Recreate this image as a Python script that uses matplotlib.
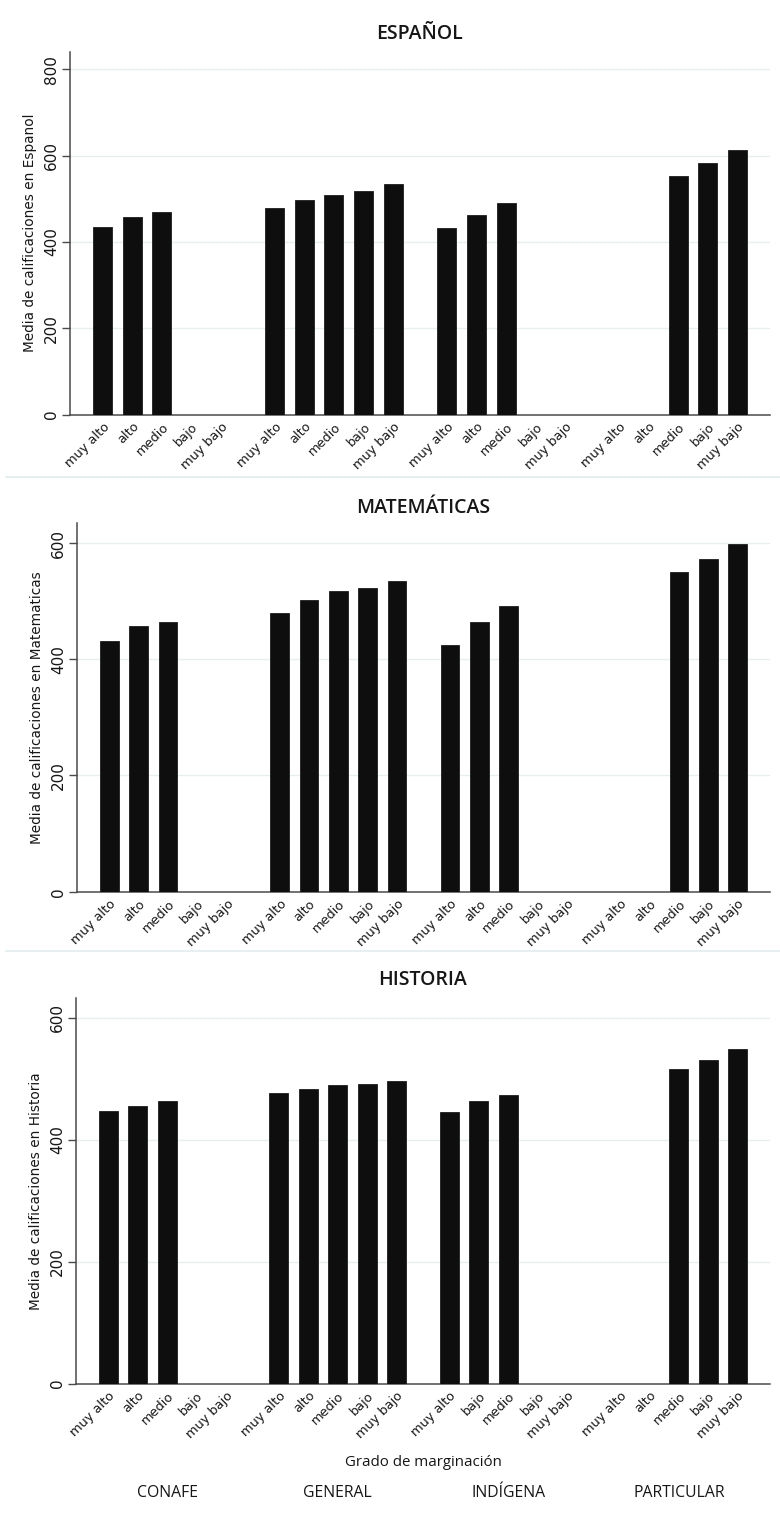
import numpy as np
import matplotlib
matplotlib.use("Agg")
import matplotlib.pyplot as plt
from matplotlib.lines import Line2D

plt.rcParams['font.family'] = ['DejaVu Sans']

# School types and marginalisation levels
tipos = ["CONAFE", "GENERAL", "INDÍGENA", "PARTICULAR"]
niveles = ["muy alto", "alto", "medio", "bajo", "muy bajo"]
niveles_hist_indigena = ["muy alto", "bajo", "medio", "bajo", "muy bajo"]

nan = np.nan
# Mean scores per school type (rows) and marginalisation level (columns)
espanol = [
    [435, 457, 470, nan, nan],
    [479, 496, 509, 518, 535],
    [432, 463, 491, nan, nan],
    [nan, nan, 552, 583, 613],
]
matematicas = [
    [431, 457, 464, nan, nan],
    [480, 502, 518, 522, 534],
    [425, 464, 492, nan, nan],
    [nan, nan, 550, 573, 598],
]
historia = [
    [447, 456, 463, nan, nan],
    [476, 483, 489, 491, 496],
    [445, 464, 473, nan, nan],
    [nan, nan, 516, 531, 548],
]

titulos = ["ESPAÑOL", "MATEMÁTICAS", "HISTORIA"]
ylabels = ["Media de calificaciones en Espanol",
           "Media de calificaciones en Matematicas",
           "Media de calificaciones en Historia"]
yticks = [[0, 200, 400, 600, 800], [0, 200, 400, 600], [0, 200, 400, 600]]
ylims = [840, 634, 632]

W, H = 780, 1515
fig = plt.figure(figsize=(W / 100, H / 100), dpi=100)

# axes boxes in pixels: left, right, y of zero line, y of top
boxes = [(70, 770, 414.5, 52), (77, 770, 891.7, 523.3), (76, 770, 1383.5, 998.3)]
title_y = [34, 508, 980]

GAP = 0.8
BAR_W = 0.64
AXIS_COL = "#4a4a4a"
TEXT_COL = "#161616"
TITLE_FONT = ["Open Sans", "DejaVu Sans"]

pos = np.array([[k * (5 + GAP) + i for i in range(5)] for k in range(4)])

for p, data in enumerate([espanol, matematicas, historia]):
    l, r, y0, y1 = boxes[p]
    ax = fig.add_axes([l / W, 1 - y0 / H, (r - l) / W, (y0 - y1) / H])
    vals = np.array(data, dtype=float)
    xs = pos.flatten()
    vs = vals.flatten()
    m = ~np.isnan(vs)
    ax.bar(xs[m], vs[m], width=BAR_W, color="#0e0e0e", edgecolor="#1c1c1c",
           linewidth=0.6, zorder=3)
    ax.set_xlim(-1.1, pos[-1, -1] + 1.1)
    ax.set_ylim(0, ylims[p])
    ax.set_yticks(yticks[p])
    ax.set_yticklabels([str(t) for t in yticks[p]], rotation=90, va="center",
                       fontsize=11, color=TEXT_COL)
    for t in yticks[p][1:]:
        ax.axhline(t, color="#e6f0f0", linewidth=1.0, zorder=1)
    labels = []
    for k in range(4):
        if p == 2 and k == 2:
            labels += niveles_hist_indigena
        else:
            labels += niveles
    ax.set_xticks(xs)
    ax.set_xticklabels(labels, rotation=45, ha="right", rotation_mode="anchor",
                       fontsize=9.3, color=TEXT_COL)
    ax.tick_params(axis="x", length=0, pad=4)
    ax.tick_params(axis="y", length=6, width=1.0, color=AXIS_COL, pad=2)
    for s in ["top", "right"]:
        ax.spines[s].set_visible(False)
    for s in ["left", "bottom"]:
        ax.spines[s].set_color(AXIS_COL)
        ax.spines[s].set_linewidth(1.1)
    ax.set_ylabel(ylabels[p], fontsize=9.8, color=TEXT_COL, labelpad=5)
    fig.text((l + r) / 2 / W, 1 - title_y[p] / H, titulos[p], ha="center",
             va="center", fontsize=14, fontweight="semibold", color=TEXT_COL,
             family=TITLE_FONT)
    if p == 2:
        fig.text((l + r) / 2 / W, 1 - 1463 / H, "Grado de marginación",
                 ha="center", va="center", fontsize=10.8, color=TEXT_COL,
                 family=TITLE_FONT)
        for k, tipo in enumerate(tipos):
            xc = pos[k].mean()
            xd = ax.transData.transform((xc, 0))[0]
            fig.text(xd / W, 1 - 1493 / H, tipo, ha="center", va="center",
                     fontsize=11.3, color=TEXT_COL, family=TITLE_FONT)

# faint separators between panels
for ysep in [477, 951]:
    fig.add_artist(Line2D([6 / W, 1], [1 - ysep / H, 1 - ysep / H],
                          color="#e3eeee", linewidth=1.2))

fig.savefig("out.png", dpi=100, facecolor="white")
